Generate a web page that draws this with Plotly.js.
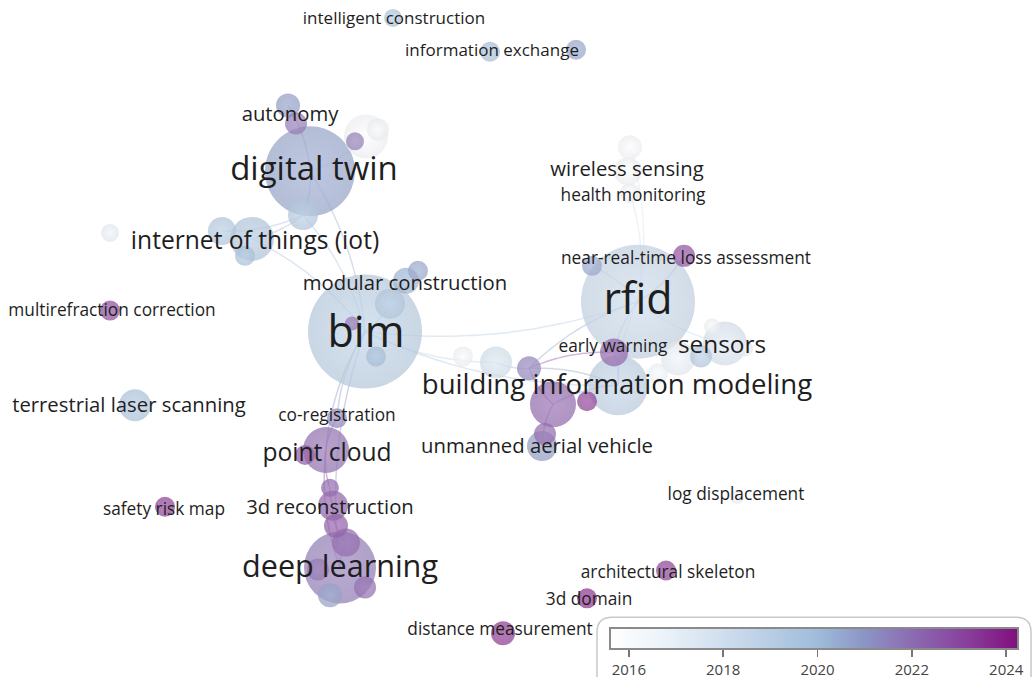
<!DOCTYPE html>
<html>
<head>
<meta charset="utf-8">
<script src="https://cdn.plot.ly/plotly-3.0.1.min.js"></script>
<style>html,body{margin:0;padding:0;background:#fff;}#chart{width:1032px;height:680px;}</style>
</head>
<body>
<div id="chart"></div>
<script>
// ---- Data: nodes (map coordinates, diameter = occurrences weight, average publication year)
const nodeX    = [365,638,310,340,618,326,252,222,245,303,110,288,296,366,378,355,418,406,390,376,352,135,110,165,393,490,576,337,305,330,333,336,346,365,330,318,542,545,553,587,529,496,463,614,592,684,725,712,678,701,658,630,628,630,737,666,587,503,745];
const nodeY    = [333,303,172,570,387,452,240,232,257,216,234,106,124,137,130,142,272,282,305,358,325,407,312,509,18,52,50,420,457,490,508,528,545,590,598,572,448,436,406,403,370,364,358,354,267,257,345,328,360,358,375,148,172,194,499,573,601,636,350];
const nodeSize = [114,114,90,72,60,46,44,28,20,30,18,24,22,44,22,18,20,26,30,20,14,32,20,20,18,20,20,20,20,18,30,24,28,22,24,22,30,22,46,20,24,32,20,28,20,22,44,16,34,22,20,24,28,20,14,20,20,24,16];
const nodeYear = [2018.9,2018.3,2020.6,2021.8,2018.7,2022.2,2019.3,2019.2,2019.6,2019.2,2016.6,2020.9,2021.9,2015.8,2016.0,2021.8,2020.6,2020.2,2019.2,2019.8,2022.0,2019.5,2023.3,2023.6,2019.4,2019.7,2020.6,2021.5,2023.0,2022.5,2022.6,2022.8,2022.4,2022.3,2020.8,2022.0,2020.9,2022.4,2022.4,2023.6,2021.6,2017.6,2016.0,2022.5,2020.6,2023.2,2017.4,2016.0,2016.6,2019.2,2016.0,2015.8,2015.9,2016.0,2016.2,2023.6,2024.0,2023.8,2016.5];

// ---- Links between nodes (indices)
const edgeFrom = [0,0,0,9,6,7,0,0,27,0,0,0,0,17,2,2,5,29,30,31,32,5,0,1,1,1,43,4,1,1,4,38,40,41,4,1,1,1];
const edgeTo   = [2,6,9,2,9,9,5,27,5,4,1,41,18,18,11,13,29,30,31,32,3,3,3,51,53,40,40,40,4,46,38,36,38,40,43,43,44,45];

// ---- Labels
const labelText = ["intelligent construction","information exchange","autonomy","digital twin","wireless sensing","health monitoring","internet of things (iot)","near-real-time loss assessment","modular construction","rfid","multirefraction correction","bim","early warning","sensors","building information modeling","terrestrial laser scanning","co-registration","unmanned aerial vehicle","point cloud","log displacement","safety risk map","3d reconstruction","deep learning","architectural skeleton","3d domain","distance measurement"];
const labelX    = [394,492,290,314,627,633,255,686,405,638,112,366,613,722,617,129,337,537,327,736,164,330,340,668,589,500];
const labelY    = [20,52,116,173,172,198,244,261,286,305,313,338,349,348,389,409,419,450,457,498,513,511,572,576,603,633];
const labelSize = [17,17,20.3,33,20.3,17.3,24.6,17.3,20.3,43,17.3,43,17.3,24.4,27.6,20.3,17.3,20.3,24.6,17.3,17.3,20.3,30.6,17.3,17.3,17.3];

// ---- Colour scale (average publication year)
const yearMin = 2015.6, yearMax = 2024.25;
const colorTicks = [2016,2018,2020,2022,2024];
const scale = [[0,'#ffffff'],[0.14,'#eaf1f8'],[0.28,'#cfdeee'],[0.51,'#9ebcda'],[0.62,'#8c96c6'],[0.74,'#8c6bb1'],[0.87,'#88419d'],[1,'#810f7c']];

function hex2rgb(h){return [parseInt(h.slice(1,3),16),parseInt(h.slice(3,5),16),parseInt(h.slice(5,7),16)];}
function yearRGB(y){
  let t = Math.max(0, Math.min(1, (y-yearMin)/(yearMax-yearMin)));
  for (let i=0;i<scale.length-1;i++){
    if (t<=scale[i+1][0]){
      const f=(t-scale[i][0])/(scale[i+1][0]-scale[i][0]);
      const c0=hex2rgb(scale[i][1]), c1=hex2rgb(scale[i+1][1]);
      return c0.map((v,k)=>Math.round(v+(c1[k]-v)*f));
    }
  }
  return [129,15,124];
}
function rgbStr(c,a){return 'rgba('+c.map(Math.round).join(',')+','+(a===undefined?1:a)+')';}
function mix(c,target,w){return c.map((v,k)=>v*(1-w)+target[k]*w);}
// sphere-like shading: edge mixed towards grey, centre towards white
const edgeCol   = y => rgbStr(mix(yearRGB(y),[175,175,180],0.22));
const centreCol = y => rgbStr(mix(yearRGB(y),[255,255,255],0.18));

const traces = [];
// curved links
for (let e=0;e<edgeFrom.length;e++){
  const a=edgeFrom[e], b=edgeTo[e];
  const x0=nodeX[a], y0=nodeY[a], x1=nodeX[b], y1=nodeY[b];
  const dx=x1-x0, dy=y1-y0;
  const cx=(x0+x1)/2 - dy*0.12, cy=(y0+y1)/2 + dx*0.12;
  const xs=[], ys=[];
  for (let k=0;k<=24;k++){
    const t=k/24;
    xs.push((1-t)*(1-t)*x0 + 2*(1-t)*t*cx + t*t*x1);
    ys.push((1-t)*(1-t)*y0 + 2*(1-t)*t*cy + t*t*y1);
  }
  traces.push({type:'scatter', mode:'lines', x:xs, y:ys, hoverinfo:'skip', showlegend:false,
    line:{color:rgbStr(yearRGB((nodeYear[a]+nodeYear[b])/2+0.6),0.4), width:1.5, shape:'spline'}});
}
// colour bar carrier (invisible markers, same year values)
traces.push({
  type:'scatter', mode:'markers', x:nodeX, y:nodeY, hoverinfo:'skip', showlegend:false,
  marker:{
    size:1, opacity:0, color:nodeYear, cmin:yearMin, cmax:yearMax, colorscale:scale, showscale:true,
    colorbar:{
      orientation:'h', x:814/1032, xanchor:'center', xpad:0,
      y:1-631/680, yanchor:'top', ypad:0,
      len:408, lenmode:'pixels', thickness:21,
      outlinecolor:'#8a8a8a', outlinewidth:2,
      tickvals: colorTicks, ticktext: colorTicks.map(String),
      ticks:'outside', ticklen:7, tickcolor:'#777', tickwidth:1.5,
      tickfont:{family:'Open Sans', size:15, color:'#444'}
    }
  }
});
// nodes, big first so small ones sit on top
const order = nodeX.map((_,i)=>i).sort((p,q)=>nodeSize[q]-nodeSize[p]);
traces.push({
  type:'scatter', mode:'markers',
  x: order.map(i=>nodeX[i]), y: order.map(i=>nodeY[i]),
  hoverinfo:'skip', showlegend:false,
  marker:{
    size: order.map(i=>nodeSize[i]),
    color: order.map(i=>edgeCol(nodeYear[i])),
    opacity: 0.74, line:{width:0},
    gradient:{type:'radial', color: order.map(i=>centreCol(nodeYear[i]))}
  }
});
// labels
traces.push({
  type:'scatter', mode:'text', x:labelX, y:labelY, text:labelText,
  textposition:'middle center', hoverinfo:'skip', showlegend:false,
  textfont:{family:'Open Sans', size:labelSize, color:'#1e1e1e'}
});

const layout = {
  width:1032, height:680,
  margin:{l:0,r:0,t:0,b:0,pad:0},
  paper_bgcolor:'#ffffff', plot_bgcolor:'#ffffff',
  xaxis:{range:[0,1032], visible:false, fixedrange:true},
  yaxis:{range:[680,0], visible:false, fixedrange:true},
  showlegend:false,
  shapes:[{type:'path', xref:'x', yref:'y', layer:'below',
    path:'M 612,620 L 1016,620 Q 1031,620 1031,635 L 1031,700 L 597,700 L 597,635 Q 597,620 612,620 Z',
    line:{color:'#c8c8c8', width:1.5}, fillcolor:'rgba(255,255,255,0)'}]
};

Plotly.newPlot('chart', traces, layout, {staticPlot:true, displayModeBar:false});
</script>
</body>
</html>
